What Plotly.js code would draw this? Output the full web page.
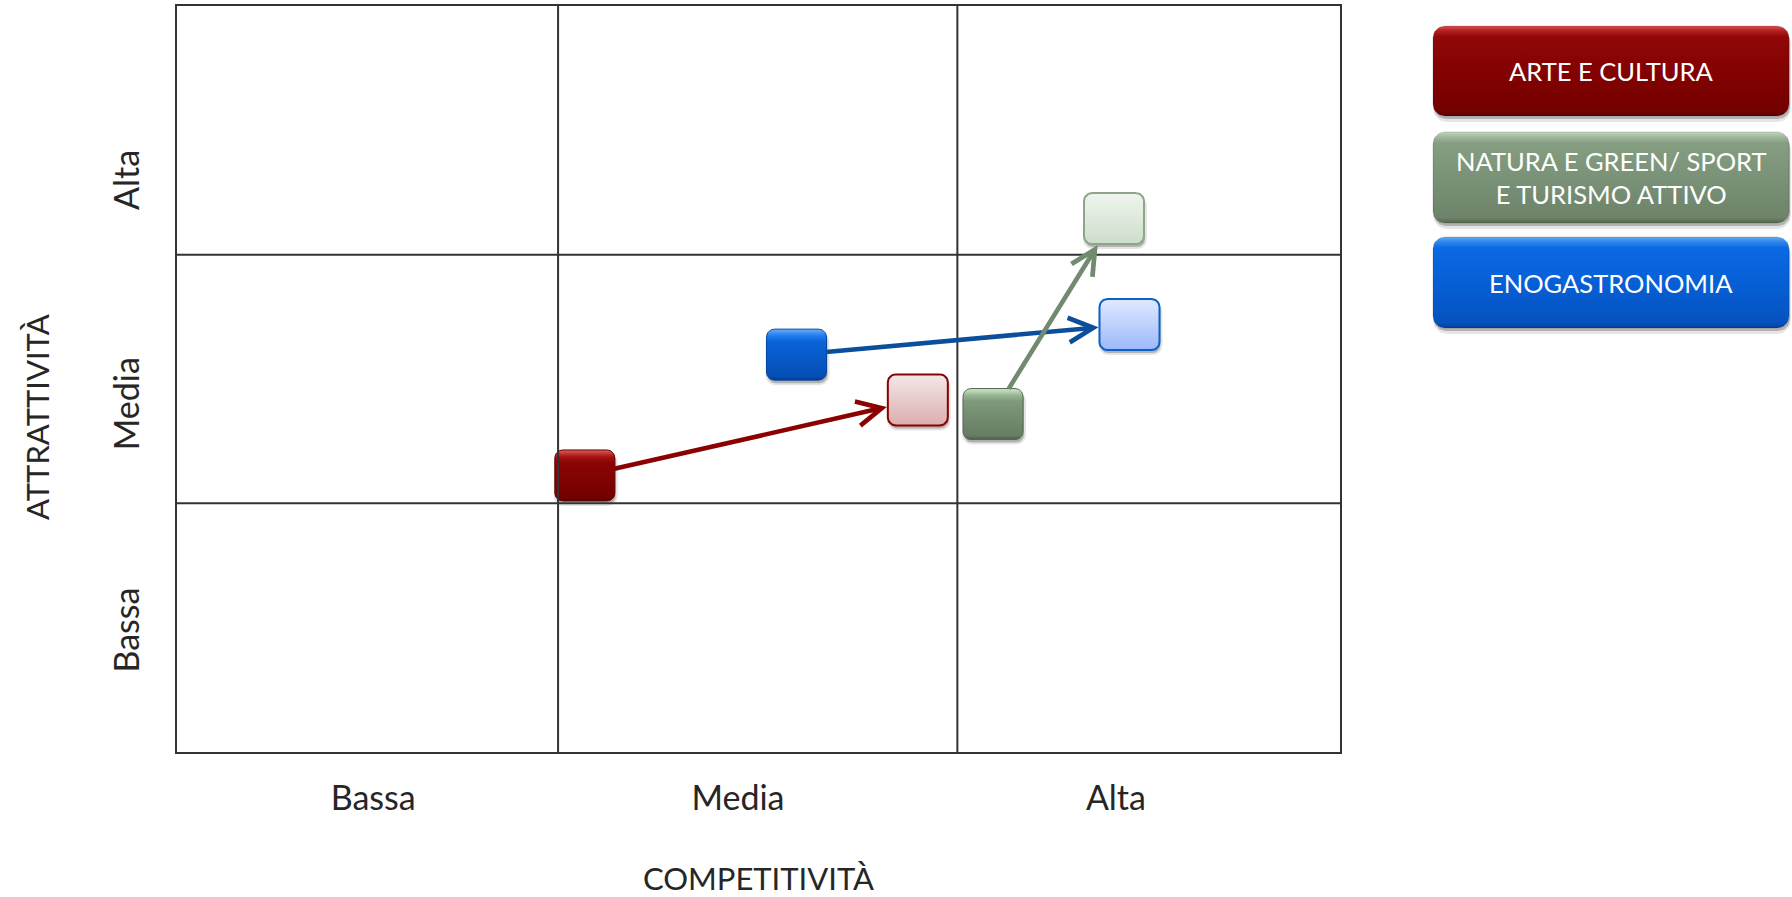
<!DOCTYPE html>
<html>
<head>
<meta charset="utf-8">
<script src="https://cdn.plot.ly/plotly-3.0.1.min.js"></script>
<style>
  html, body { margin: 0; padding: 0; background: #ffffff; }
  #chart { width: 1792px; height: 897px; }
</style>
</head>
<body>
<div id="chart"></div>
<script>
// ---------------- DATA ----------------
const categories = ['ARTE E CULTURA', 'NATURA E GREEN/ SPORT<br>E TURISMO ATTIVO', 'ENOGASTRONOMIA'];
// position of each product line (competitività, attrattività) before and after
const startCompetitivita = [1.052, 2.105, 1.598];
const startAttrattivita  = [1.112, 1.359, 1.598];
const endCompetitivita   = [1.911, 2.417, 2.457];
const endAttrattivita    = [1.416, 2.145, 1.719];
// axis labels
const levelLabels = ['Bassa', 'Media', 'Alta'];
const xLabelPos = [0.506, 1.447, 2.422];
const yLabelPos = [0.47, 1.38, 2.28];
const xTitle = 'COMPETITIVITÀ';
const yTitle = 'ATTRATTIVITÀ';
// class boundaries of the 3x3 matrix
const xBounds = [0.983, 2.013];
const yBounds = [1, 2];

// ---------------- STYLE ----------------
const W = 1792, H = 897;
const M = {l: 177, r: 0, t: 6, b: 145};
const plotW = W - M.l - M.r, plotH = H - M.t - M.b;
const mainW = 1163;                 // width of the matrix in px
const mainFrac = mainW / plotW;
const legX0 = 1427;                 // left edge of legend area in px
const legFrac0 = (legX0 - M.l) / plotW;
const kx = mainW / 3, ky = plotH / 3;   // px per data unit

const FONT = 'Lato, "Open Sans", sans-serif';
const TXT = '#262626';

const darkScales = [
  [[0,'#560000'],[0.07,'#730000'],[0.75,'#8c0404'],[0.86,'#a31212'],[0.93,'#c33434'],[1,'#dd6060']],
  [[0,'#4b5c49'],[0.07,'#667c63'],[0.75,'#7f997c'],[0.86,'#97b293'],[0.93,'#b4cfb0'],[1,'#cfe6cb']],
  [[0,'#03388a'],[0.07,'#054fb6'],[0.75,'#0a62d8'],[0.86,'#2079ea'],[0.93,'#3f93f2'],[1,'#6fb0f7']]
];
const darkLines = ['#650000', '#56684f', '#0446a3'];
const lightScales = [
  [[0,'#dbaeae'],[1,'#f4e8e8']],
  [[0,'#cddecb'],[1,'#eff5ed']],
  [[0,'#9db8fb'],[1,'#e0e9ff']]
];
const lightLines = ['#8b0000', '#8ea48b', '#0a62c8'];
const arrowColors = ['#8b0000', '#728a70', '#0b4f9c'];
const legendScales = [
  [[0,'#5c0000'],[0.06,'#740000'],[0.5,'#830202'],[0.88,'#920707'],[0.95,'#b42222'],[1,'#d95454']],
  [[0,'#55674f'],[0.06,'#6d836a'],[0.5,'#7a9277'],[0.88,'#859e82'],[0.95,'#a2bb9f'],[1,'#c3d6c0']],
  [[0,'#033f98'],[0.06,'#0552bf'],[0.5,'#075fd6'],[0.88,'#0a69e3'],[0.95,'#3189f0'],[1,'#66aaf7']]
];
const BOX_W = 60, BOX_H = 51, BOX_R = 8;

// rounded rectangle outline around a centre given in axis units, size in px
function roundRect(cx, cy, w, h, r, sx, sy, offX, offY) {
  offX = offX || 0; offY = offY || 0;
  const xs = [], ys = [];
  const hx = w / 2 - r, hy = h / 2 - r;
  const corners = [[hx, hy, 90, 0], [hx, -hy, 0, -90], [-hx, -hy, -90, -180], [-hx, hy, 180, 90]];
  corners.forEach(function (c) {
    for (let i = 0; i <= 8; i++) {
      const a = (c[2] + (c[3] - c[2]) * i / 8) * Math.PI / 180;
      xs.push(cx + (c[0] + r * Math.cos(a) + offX) / sx);
      ys.push(cy + (c[1] + r * Math.sin(a) + offY) / sy);
    }
  });
  xs.push(xs[0]); ys.push(ys[0]);
  return {x: xs, y: ys};
}

function boxTrace(cx, cy, w, h, r, sx, sy, scale, lineColor, lineWidth, xa, ya, name) {
  const p = roundRect(cx, cy, w, h, r, sx, sy);
  return {
    type: 'scatter', mode: 'lines', x: p.x, y: p.y, xaxis: xa, yaxis: ya,
    fill: 'toself', fillcolor: scale[Math.floor(scale.length / 2)][1],
    fillgradient: {type: 'vertical', colorscale: scale},
    line: {color: lineColor, width: lineWidth},
    name: name, hoverinfo: 'name', showlegend: false
  };
}
function shadowTrace(cx, cy, w, h, r, sx, sy, offX, offY, alpha, xa, ya) {
  const p = roundRect(cx, cy, w, h, r, sx, sy, offX, offY);
  return {
    type: 'scatter', mode: 'lines', x: p.x, y: p.y, xaxis: xa, yaxis: ya,
    fill: 'toself', fillcolor: 'rgba(0,0,0,' + alpha + ')',
    line: {width: 0, color: 'rgba(0,0,0,0)'}, hoverinfo: 'skip', showlegend: false
  };
}

const traces = [];
const shapes = [];
const annotations = [];

// grid lines of the matrix
xBounds.forEach(function (v) {
  shapes.push({type: 'line', xref: 'x', yref: 'y', x0: v, x1: v, y0: 0, y1: 3,
               line: {color: '#333333', width: 2}, layer: 'above'});
});
yBounds.forEach(function (v) {
  shapes.push({type: 'line', xref: 'x', yref: 'y', x0: 0, x1: 3, y0: v, y1: v,
               line: {color: '#333333', width: 2}, layer: 'above'});
});

// boxes: shadows first
for (let i = 0; i < categories.length; i++) {
  [[startCompetitivita[i], startAttrattivita[i]], [endCompetitivita[i], endAttrattivita[i]]].forEach(function (pt) {
    traces.push(shadowTrace(pt[0], pt[1], BOX_W + 4, BOX_H + 2, BOX_R + 2, kx, ky, 1, -4, 0.10, 'x', 'y'));
    traces.push(shadowTrace(pt[0], pt[1], BOX_W, BOX_H, BOX_R, kx, ky, 1, -3, 0.22, 'x', 'y'));
  });
}
for (let i = 0; i < categories.length; i++) {
  const nm = categories[i].replace('<br>', ' ');
  traces.push(boxTrace(startCompetitivita[i], startAttrattivita[i], BOX_W, BOX_H, BOX_R, kx, ky,
                       darkScales[i], darkLines[i], 1, 'x', 'y', nm));
  traces.push(boxTrace(endCompetitivita[i], endAttrattivita[i], BOX_W, BOX_H, BOX_R, kx, ky,
                       lightScales[i], lightLines[i], 2, 'x', 'y', nm));
}

// arrows (red, blue, green so that green is on top)
[0, 2, 1].forEach(function (i) {
  const dxp = (endCompetitivita[i] - startCompetitivita[i]) * kx;
  const dyp = (endAttrattivita[i] - startAttrattivita[i]) * ky;
  const L = Math.hypot(dxp, dyp);
  const t = Math.min((BOX_W / 2) / Math.abs(dxp), (BOX_H / 2) / Math.abs(dyp)) * L;
  annotations.push({
    xref: 'x', yref: 'y', axref: 'x', ayref: 'y',
    x: endCompetitivita[i], y: endAttrattivita[i],
    ax: startCompetitivita[i], ay: startAttrattivita[i],
    text: '', showarrow: true, arrowhead: 5, arrowsize: 1.05, arrowwidth: 4.6,
    arrowcolor: arrowColors[i], standoff: t + 1, startstandoff: t - 2
  });
});

// y axis title (placed slightly below the axis middle, as in the original)
annotations.push({
  xref: 'paper', yref: 'paper', x: (37 - M.l) / plotW, y: (H - M.b - 417) / plotH,
  text: yTitle, textangle: -90, showarrow: false, xanchor: 'center', yanchor: 'middle',
  font: {family: FONT, size: 31, color: TXT}
});

// legend boxes (second, invisible pixel-unit axes)
const legCenters = [681, 574.5, 469.5];
const legHeights = [90, 91, 91];
const legCx = 184, legW = 358;
for (let i = 0; i < categories.length; i++) {
  traces.push(shadowTrace(legCx, legCenters[i], legW, legHeights[i] + 2, 14, 1, 1, 1, -5, 0.10, 'x2', 'y2'));
  traces.push(shadowTrace(legCx, legCenters[i], legW - 2, legHeights[i], 12, 1, 1, 1, -3, 0.22, 'x2', 'y2'));
  traces.push(boxTrace(legCx, legCenters[i], legW - 2, legHeights[i], 12, 1, 1,
                       legendScales[i], 'rgba(0,0,0,0.15)', 1, 'x2', 'y2', categories[i].replace('<br>', ' ')));
  annotations.push({
    xref: 'x2', yref: 'y2', x: legCx, y: legCenters[i], text: categories[i],
    showarrow: false, xanchor: 'center', yanchor: 'middle', align: 'center',
    font: {family: FONT, size: 25.5, color: '#ffffff'}
  });
}

const layout = {
  width: W, height: H,
  margin: M,
  paper_bgcolor: '#ffffff', plot_bgcolor: 'rgba(0,0,0,0)',
  font: {family: FONT, color: TXT},
  showlegend: false,
  xaxis: {
    domain: [0, mainFrac], range: [0, 3], fixedrange: true,
    showline: true, mirror: true, linecolor: '#333333', linewidth: 2,
    showgrid: false, zeroline: false,
    tickmode: 'array', tickvals: xLabelPos, ticktext: levelLabels,
    ticks: 'outside', ticklen: 15, tickcolor: 'rgba(0,0,0,0)',
    tickfont: {family: FONT, size: 34, color: TXT},
    title: {text: xTitle, font: {family: FONT, size: 31, color: TXT}, standoff: 55}
  },
  yaxis: {
    domain: [0, 1], range: [0, 3], fixedrange: true,
    showline: true, mirror: true, linecolor: '#333333', linewidth: 2,
    showgrid: false, zeroline: false,
    tickmode: 'array', tickvals: yLabelPos, ticktext: levelLabels, tickangle: -90,
    ticks: 'outside', ticklen: 22, tickcolor: 'rgba(0,0,0,0)',
    tickfont: {family: FONT, size: 34, color: TXT}
  },
  xaxis2: {domain: [legFrac0, 1], range: [0, W - legX0], visible: false, fixedrange: true, anchor: 'y2'},
  yaxis2: {domain: [0, 1], range: [0, plotH], visible: false, fixedrange: true, anchor: 'x2'},
  shapes: shapes,
  annotations: annotations
};

Plotly.newPlot('chart', traces, layout, {displayModeBar: false, responsive: false});
</script>
</body>
</html>
